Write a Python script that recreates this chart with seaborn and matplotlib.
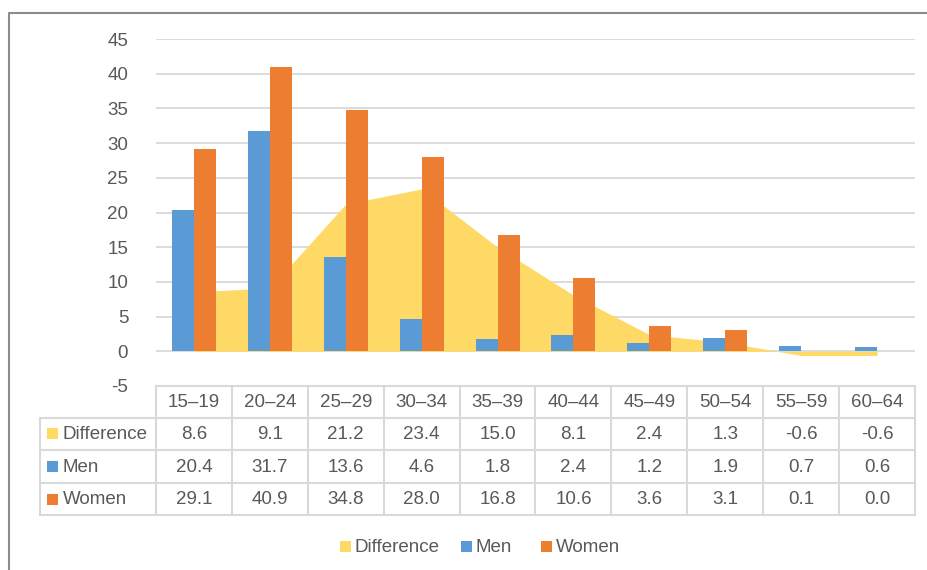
import matplotlib
matplotlib.use("Agg")
import matplotlib.pyplot as plt
from matplotlib.patches import Rectangle
import numpy as np
import pandas as pd
import seaborn as sns

# Age groups and rates by sex
age_groups = ["15–19", "20–24", "25–29", "30–34", "35–39",
              "40–44", "45–49", "50–54", "55–59", "60–64"]
difference = [8.6, 9.1, 21.2, 23.4, 15.0, 8.1, 2.4, 1.3, -0.6, -0.6]
men = [20.4, 31.7, 13.6, 4.6, 1.8, 2.4, 1.2, 1.9, 0.7, 0.6]
women = [29.1, 40.9, 34.8, 28.0, 16.8, 10.6, 3.6, 3.1, 0.1, 0.0]

series_names = ["Difference", "Men", "Women"]
colors = {"Difference": "#FFD966", "Men": "#5B9BD5", "Women": "#ED7D31"}
text_color = "#595959"
grid_color = "#D9D9D9"

sns.set_theme(style="white")
plt.rcParams["font.family"] = ["Liberation Sans", "DejaVu Sans"]
plt.rcParams["axes.unicode_minus"] = False

W, H = 928, 570
fig = plt.figure(figsize=(W / 100, H / 100), dpi=100)
fig.patch.set_facecolor("white")

def fig_rect(x0, y0, x1, y1):
    return [x0 / W, 1 - y1 / H, (x1 - x0) / W, (y1 - y0) / H]

# plot area
px_left, px_right, px_top, px_bottom = 156, 915, 39, 386
ax = fig.add_axes(fig_rect(px_left, px_top, px_right, px_bottom))

long = pd.DataFrame({
    "age": age_groups * 2,
    "value": men + women,
    "sex": ["Men"] * len(age_groups) + ["Women"] * len(age_groups),
})

xpos = np.arange(len(age_groups))
ax.fill_between(xpos, difference, 0, color=colors["Difference"], lw=0, zorder=1)

sns.barplot(data=long, x="age", y="value", hue="sex", order=age_groups,
            hue_order=["Men", "Women"],
            palette={"Men": colors["Men"], "Women": colors["Women"]},
            width=0.58, dodge=True, legend=False, ax=ax, errorbar=None,
            saturation=1.0)
for p in ax.patches:
    p.set_zorder(3)
    p.set_edgecolor("none")

ax.set_xlim(-0.5, len(age_groups) - 0.5)
ax.set_ylim(-5, 45)
ax.set_yticks(np.arange(-5, 46, 5))
ax.yaxis.grid(True, color=grid_color, lw=1.3)
ax.set_axisbelow(True)
ax.set_xticks([])
ax.set_xlabel("")
ax.set_ylabel("")
for s in ax.spines.values():
    s.set_visible(False)
fs = 13.5
ax.tick_params(axis="y", length=0, pad=20, labelsize=fs, labelcolor=text_color)
ax.patch.set_alpha(0)

# overlay in pixel coordinates for the data table, legend and frame
ov = fig.add_axes([0, 0, 1, 1], zorder=-1)
ov.set_xlim(0, W)
ov.set_ylim(H, 0)
ov.axis("off")

col_w = (px_right - px_left) / len(age_groups)
row_y = [386, 417.5, 450, 483, 515]
label_left = 40
lw = 1.5

# horizontal rules
ov.plot([px_left, px_right], [row_y[0]] * 2, color=grid_color, lw=lw)
for y in row_y[1:]:
    ov.plot([label_left, px_right], [y, y], color=grid_color, lw=lw)
# vertical rules
ov.plot([label_left, label_left], [row_y[1], row_y[-1]], color=grid_color, lw=lw)
for i in range(len(age_groups) + 1):
    x = px_left + i * col_w
    ov.plot([x, x], [row_y[0], row_y[-1]], color=grid_color, lw=lw)

for i, lab in enumerate(age_groups):
    cx = px_left + (i + 0.5) * col_w
    ov.text(cx, (row_y[0] + row_y[1]) / 2 + 1, lab, ha="center", va="center",
            fontsize=fs, color=text_color)

rows = [difference, men, women]
for r, (name, vals) in enumerate(zip(series_names, rows)):
    cy = (row_y[r + 1] + row_y[r + 2]) / 2
    ov.add_patch(Rectangle((47.5, cy - 5.5), 11, 11, color=colors[name], lw=0))
    ov.text(63, cy + 1, name, ha="left", va="center", fontsize=fs,
            color=text_color)
    for i, v in enumerate(vals):
        cx = px_left + (i + 0.5) * col_w
        ov.text(cx, cy + 1, f"{v:.1f}", ha="center", va="center",
                fontsize=fs, color=text_color)

# bottom legend
leg_y = 546
leg_items = [("Difference", 340), ("Men", 461), ("Women", 541)]
for name, x0 in leg_items:
    ov.add_patch(Rectangle((x0, leg_y - 5.5), 11, 11, color=colors[name], lw=0))
    ov.text(x0 + 15, leg_y + 1, name, ha="left", va="center", fontsize=fs,
            color=text_color)

# chart frame
ov.plot([9, 9, W + 5], [H + 5, 13, 13], color="#8C8C8C", lw=1.5,
        clip_on=False)

fig.savefig("out.png", dpi=100)
